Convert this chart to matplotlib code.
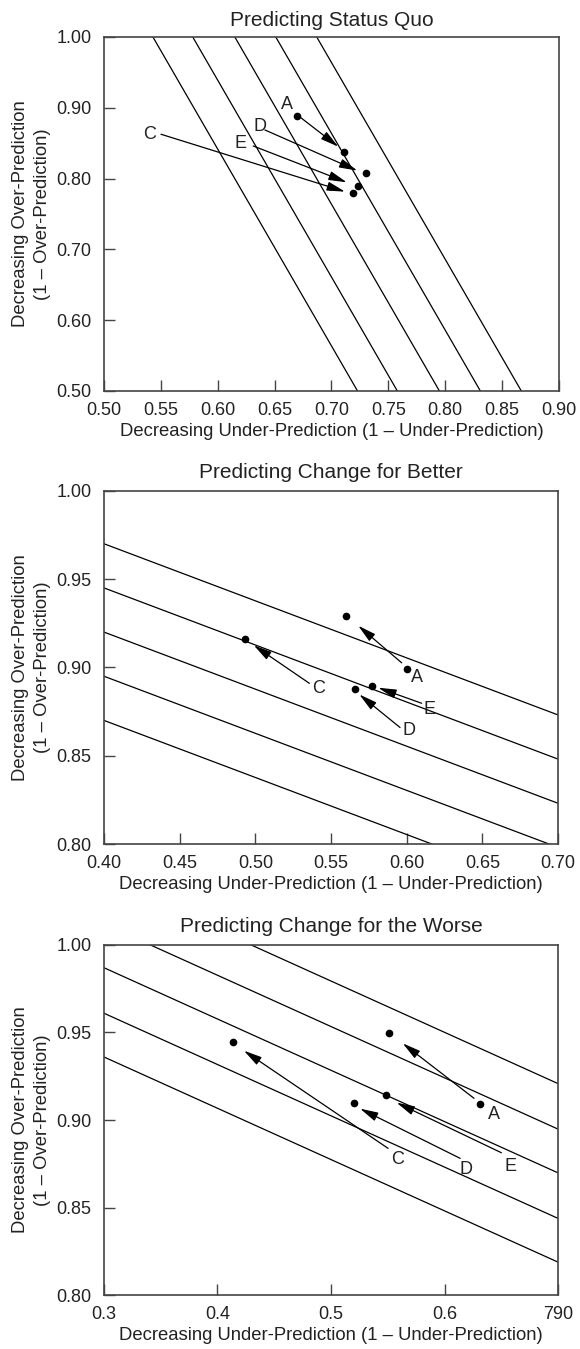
import numpy as np
import matplotlib
matplotlib.use('Agg')
import matplotlib.pyplot as plt

plt.rcParams['font.family'] = ['Liberation Sans', 'DejaVu Sans']
plt.rcParams['font.size'] = 13

INK = '#222222'

# ---- panel 1: status quo ----
sq_line_xtop = [0.543, 0.578, 0.615, 0.651, 0.687]   # x where each line meets y = 1.0
sq_slope = -2.78
sq_dot_x = [0.670, 0.711, 0.730, 0.723, 0.719]
sq_dot_y = [0.889, 0.838, 0.808, 0.790, 0.779]
sq_labels = ['A', 'D', 'E', 'C']
sq_label_xy = [(0.661, 0.905), (0.637, 0.873), (0.620, 0.849), (0.540, 0.862)]
sq_arrow_from = [(0.673, 0.886), (0.6415, 0.8686), (0.6312, 0.846), (0.5501, 0.8626)]
sq_arrow_to = [(0.706, 0.845), (0.7227, 0.8112), (0.7134, 0.7947), (0.7119, 0.7815)]

# ---- panel 2: change for better ----
bt_line_yleft = [0.970, 0.945, 0.920, 0.895, 0.870]  # y at x = 0.40
bt_slope = -0.323
bt_dot_x = [0.5597, 0.4932, 0.600, 0.5773, 0.566]
bt_dot_y = [0.9291, 0.9162, 0.899, 0.8896, 0.8879]
bt_labels = ['A', 'C', 'E', 'D']
bt_label_xy = [(0.607, 0.8944), (0.5417, 0.8881), (0.615, 0.8759), (0.6017, 0.8642)]
bt_arrow_from = [(0.5967, 0.9026), (0.5357, 0.891), (0.6099, 0.8797), (0.5956, 0.866)]
bt_arrow_to = [(0.568, 0.9236), (0.499, 0.9125), (0.5812, 0.8885), (0.5687, 0.8847)]

# ---- panel 3: change for the worse ----
wr_line_yleft = [1.038, 1.012, 0.987, 0.961, 0.936]  # y at x = 0.3
wr_slope = -0.293
wr_dot_x = [0.5508, 0.4137, 0.5485, 0.5205, 0.6313]
wr_dot_y = [0.9497, 0.9446, 0.9143, 0.9095, 0.909]
wr_labels = ['A', 'C', 'D', 'E']
wr_label_xy = [(0.6439, 0.9029), (0.5584, 0.8775), (0.6189, 0.8718), (0.6577, 0.8733)]
wr_arrow_from = [(0.626, 0.9124), (0.5503, 0.8838), (0.6138, 0.8781), (0.6501, 0.8813)]
wr_arrow_to = [(0.5632, 0.9438), (0.4233, 0.9396), (0.5256, 0.9065), (0.5578, 0.9099)]

XLABEL = 'Decreasing Under-Prediction (1 \u2013 Under-Prediction)'
YLABEL = 'Decreasing Over-Prediction\n(1 \u2013 Over-Prediction)'

fig = plt.figure(figsize=(5.8, 13.49), dpi=100)
ax1 = fig.add_axes([0.1793, 0.7102, 0.7845, 0.2624])
ax2 = fig.add_axes([0.1793, 0.3743, 0.7828, 0.2619])
ax3 = fig.add_axes([0.1793, 0.0400, 0.7828, 0.2595])


def style(ax, title, xlim, ylim, xticks, yticks, xfmt, yfmt, tpad, xticklabels=None):
    ax.set_xlim(*xlim)
    ax.set_ylim(*ylim)
    ax.set_xticks(xticks)
    ax.set_yticks(yticks)
    if xticklabels is None:
        xticklabels = [xfmt % v for v in xticks]
    ax.set_xticklabels(xticklabels)
    ax.set_yticklabels([yfmt % v for v in yticks])
    ax.tick_params(direction='in', length=8, width=1, color='#444444',
                   labelcolor=INK, labelsize=13)
    ax.tick_params(axis='y', pad=9)
    ax.tick_params(axis='x', pad=8)
    for s in ax.spines.values():
        s.set_color('#444444')
        s.set_linewidth(1.2)
    ax.set_title(title, fontsize=15, color=INK, pad=tpad)
    ax.set_xlabel(XLABEL, color=INK, fontsize=13.3, labelpad=3)
    ax.set_ylabel(YLABEL, color=INK, fontsize=13.3, labelpad=4, linespacing=1.35)


def marks(ax, dx, dy, labels, label_xy, a_from, a_to):
    ax.plot(dx, dy, 'o', color='black', ms=4.5, zorder=4)
    for lab, (tx, ty) in zip(labels, label_xy):
        ax.text(tx, ty, lab, ha='center', va='center', fontsize=13, color=INK)
    for p0, p1 in zip(a_from, a_to):
        ax.annotate('', xy=p1, xytext=p0,
                    arrowprops=dict(arrowstyle='-|>,head_length=1.0,head_width=0.25',
                                    color='black', lw=0.9,
                                    shrinkA=0, shrinkB=0, mutation_scale=11))


# panel 1
yy = np.array([0.5, 1.0])
for xt in sq_line_xtop:
    ax1.plot(xt + (yy - 1.0) / sq_slope, yy, color='black', lw=0.9)
style(ax1, 'Predicting Status Quo', (0.5, 0.9), (0.5, 1.0),
      np.arange(0.50, 0.901, 0.05), np.arange(0.50, 1.001, 0.10), '%.2f', '%.2f', 8)
marks(ax1, sq_dot_x, sq_dot_y, sq_labels, sq_label_xy, sq_arrow_from, sq_arrow_to)

# panel 2
xx = np.array([0.4, 0.7])
for y0 in bt_line_yleft:
    ax2.plot(xx, y0 + bt_slope * (xx - 0.4), color='black', lw=0.9)
style(ax2, 'Predicting Change for Better', (0.4, 0.7), (0.8, 1.0),
      np.arange(0.40, 0.701, 0.05), np.arange(0.80, 1.001, 0.05), '%.2f', '%.2f', 9)
marks(ax2, bt_dot_x, bt_dot_y, bt_labels, bt_label_xy, bt_arrow_from, bt_arrow_to)

# panel 3
xx = np.array([0.3, 0.7])
for y0 in wr_line_yleft:
    ax3.plot(xx, y0 + wr_slope * (xx - 0.3), color='black', lw=0.9)
style(ax3, 'Predicting Change for the Worse', (0.3, 0.7), (0.8, 1.0),
      np.arange(0.3, 0.701, 0.1), np.arange(0.80, 1.001, 0.05), '%.1f', '%.2f', 9,
      xticklabels=['0.3', '0.4', '0.5', '0.6', '790'])
marks(ax3, wr_dot_x, wr_dot_y, wr_labels, wr_label_xy, wr_arrow_from, wr_arrow_to)

fig.savefig('out.png', dpi=100)
plt.close(fig)
